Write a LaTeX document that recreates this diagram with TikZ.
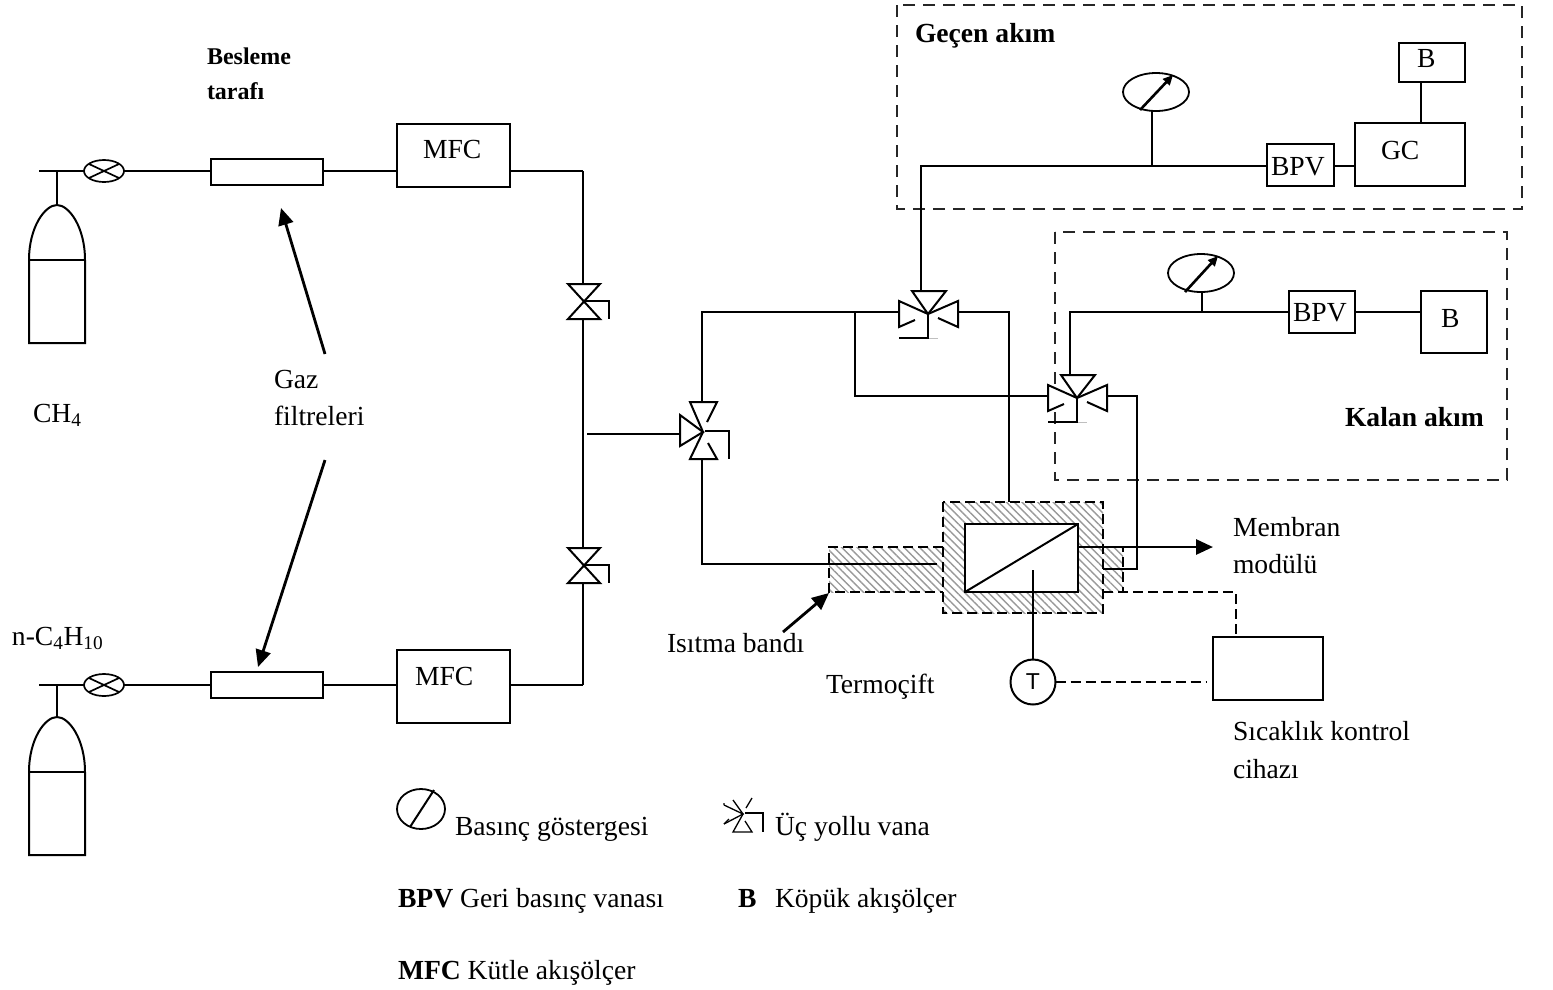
\documentclass[tikz,border=0pt]{standalone}
\usepackage{fontspec}
\setmainfont{Liberation Serif}
\newfontfamily\sansT{Liberation Sans}
\usetikzlibrary{arrows.meta,patterns.meta,shapes.geometric}
\tikzset{
  x=1pt,y=-1pt,
  every node/.style={inner sep=0pt,outer sep=0pt},
  pipe/.style={line width=2pt,line join=miter},
  boxshape/.style={draw,line width=2pt,fill=white,rectangle},
  ell/.style={draw,line width=1.8pt,ellipse,fill=white},
  txt/.style={anchor=base west,yshift=-1pt,font=\fontsize{27.6}{32}\selectfont},
  btxt/.style={txt,font=\fontsize{27.6}{32}\selectfont\bfseries},
  titletxt/.style={txt,font=\fontsize{24}{28}\selectfont\bfseries},
  dashbox/.style={line width=1.8pt,draw=black!85,dash pattern=on 12pt off 8pt},
  hdash/.style={line width=1.8pt,dash pattern=on 10pt off 5pt},
  hatch/.style={pattern={Lines[angle=-45,distance=5.5pt,line width=1.4pt]},pattern color=black!40},
  bigarrow/.style={line width=2.8pt,-{Triangle[length=17pt,width=15pt]}},
  gaugearrow/.style={line width=2.6pt,-{Triangle[length=10pt,width=9pt]}},
  threewayT/.pic={
    \coordinate (-top) at (-6,-23);
    \coordinate (-left) at (-29,-2);
    \coordinate (-right) at (30,-2);
    \draw[pipe,fill=white] (-16,-23) -- (18,-23) -- (0,0) -- cycle;
    \fill[white] (0,0) -- (-29,-13) -- (-29,13) -- cycle;
    \fill[white] (0,0) -- (30,-13) -- (30,13) -- cycle;
    \draw[pipe] (-13,6) -- (-29,13) -- (-29,-13) -- (0,0) -- (30,-13) -- (30,13) -- (10,4);
    \draw[line width=1pt,black!25] (0,24) -- (10,24);
    \draw[pipe] (0,0) -- (0,24) -- (-29,24);
  },
  threewayV/.pic={
    \coordinate (-top) at (-1,-30);
    \coordinate (-bottom) at (-1,27);
    \coordinate (-left) at (-23,2);
    \draw[pipe] (4,-10) -- (14,-30) -- (-13,-30) -- (0,0) -- (-13,27) -- (14,27) -- (5,11);
    \draw[pipe,fill=white] (0,0) -- (-23,-17) -- (-23,14) -- cycle;
    \draw[pipe] (2,-1) -- (26,-1) -- (26,27);
  },
  twoway/.pic={
    \coordinate (-top) at (0,-17);
    \coordinate (-bottom) at (0,18);
    \draw[pipe,fill=white] (-15,-17) -- (17,-17) -- (-15,18) -- (17,18) -- cycle;
    \draw[pipe] (0,0) -- (26,0) -- (26,18);
  },
  cylinder/.pic={
    \coordinate (-top) at (0,0);
    \draw[pipe] (-28,138) -- (-28,55) .. controls (-28,22) and (-12,0) .. (0,0)
       .. controls (12,0) and (28,22) .. (28,55) -- (28,138) -- cycle;
    \draw[pipe] (-28,55) -- (28,55);
  },
  regulator/.pic={
    \draw[line width=1.7pt,fill=white] (0,0) ellipse [x radius=20pt,y radius=11pt];
    \draw[line width=1.7pt] (-15,-7) -- (15,7) (-15,7) -- (15,-7);
  },
}
\begin{document}
\begin{tikzpicture}
\useasboundingbox (0,0) rectangle (1553,989);

% dashed enclosures
\draw[dashbox] (897,5) rectangle (1522,209);
\draw[dashbox] (1055,232) rectangle (1507,480);

% hatched heating zones
\fill[hatch] (829,547) rectangle (943,592);
\fill[hatch] (1103,547) rectangle (1123,592);
\fill[hatch] (943,502) rectangle (1103,613);
\draw[hdash] (943,547) -- (829,547) -- (829,592) -- (943,592);
\draw[hdash] (1103,547) -- (1123,547) -- (1123,592) -- (1103,592);
\draw[hdash] (943,502) rectangle (1103,613);

% feed side
\pic (cyl1) at (57,205) {cylinder};
\pic (cyl2) at (57,717) {cylinder};
\coordinate (s1) at (39,171);
\coordinate (s2) at (39,685);
\coordinate (t1) at (57,171);
\coordinate (t2) at (57,685);
\node[boxshape,minimum width=112pt,minimum height=26pt] (filter1) at (267,172) {};
\node[boxshape,minimum width=112pt,minimum height=26pt] (filter2) at (267,685) {};
\node[boxshape,minimum width=113pt,minimum height=63pt] (mfc1) at (453.5,155.5) {};
\node[boxshape,minimum width=113pt,minimum height=73pt] (mfc2) at (453.5,686.5) {};
\coordinate (j1) at (583,171);
\coordinate (j2) at (583,685);
\coordinate (j3) at (587,434);
\draw[pipe] (s1) -- (s1 -| filter1.west);
\draw[pipe] (s2) -- (filter2.west);
\draw[pipe] (t1) -- (cyl1-top);
\draw[pipe] (t2) -- (cyl2-top);
\pic at (104,171) {regulator};
\pic at (104,685) {regulator};
\draw[pipe] (filter1.east |- j1) -- (mfc1.west |- j1);
\draw[pipe] (filter2.east) -- (filter2.east -| mfc2.west);
\draw[pipe] (mfc1.east |- j1) -- (j1);
\draw[pipe] (mfc2.east |- j2) -- (j2);
\pic (tw1) at (583,301) {twoway};
\pic (tw2) at (583,565) {twoway};
\draw[pipe] (j1) -- (tw1-top);
\draw[pipe] (tw1-bottom) -- (tw2-top);
\draw[pipe] (tw2-bottom) -- (j2);

% three-way valves
\pic (v1) at (703,432) {threewayV};
\pic (v2) at (928,314) {threewayT};
\pic (v3) at (1077,398) {threewayT};
\coordinate (a1) at (702,312);
\coordinate (a2) at (855,312);
\coordinate (a3) at (855,396);
\coordinate (a4) at (1009,312);
\coordinate (a5) at (1009,502);
\coordinate (a6) at (702,564);
\coordinate (a7) at (937,564);
\coordinate (a8) at (1137,396);
\coordinate (a9) at (1137,569);
\coordinate (a10) at (1103,569);
\draw[pipe] (j3) -- (v1-left);
\draw[pipe] (v1-top) -- (a1) -- (v2-left);
\draw[pipe] (a2) -- (a3) -- (v3-left);
\draw[pipe] (v2-right) -- (a4) -- (a5);
\draw[pipe] (v1-bottom) -- (a6) -- (a7);
\draw[pipe] (v3-right) -- (a8) -- (a9) -- (a10);

% permeate stream
\node[ell,minimum width=66pt,minimum height=38pt] (g1) at (1156,92) {};
\coordinate (g1a) at (1140,110);
\coordinate (g1b) at (1173,75);
\draw[gaugearrow] (g1a) -- (g1b);
\node[boxshape,minimum width=67pt,minimum height=42pt] (bpv1) at (1300.5,165) {};
\node[boxshape,minimum width=110pt,minimum height=63pt] (gc) at (1410,154.5) {};
\node[boxshape,minimum width=66pt,minimum height=39pt] (b1) at (1432,62) {};
\coordinate (p1) at (921,166);
\coordinate (p2) at (1152,166);
\coordinate (p3) at (1152,111);
\coordinate (p4) at (1421,82);
\coordinate (p5) at (1421,123);
\draw[pipe] (v2-top -| p1) -- (p1) -- (bpv1.west |- p1);
\draw[pipe] (p2) -- (p3);
\draw[pipe] (bpv1.east |- p1) -- (gc.west |- p1);
\draw[pipe] (p4) -- (p5);

% retentate stream
\node[ell,minimum width=66pt,minimum height=38pt] (g2) at (1201,273) {};
\coordinate (g2a) at (1185,292);
\coordinate (g2b) at (1218,256);
\draw[gaugearrow] (g2a) -- (g2b);
\node[boxshape,minimum width=66pt,minimum height=42pt] (bpv2) at (1322,312) {};
\node[boxshape,minimum width=66pt,minimum height=62pt] (b2) at (1454,322) {};
\coordinate (q1) at (1070,312);
\coordinate (q2) at (1202,312);
\coordinate (q3) at (1202,293);
\coordinate (q4) at (1070,375);
\draw[pipe] (q4) -- (q1) -- (bpv2.west);
\draw[pipe] (q2) -- (q3);
\draw[pipe] (bpv2.east) -- (b2.west |- bpv2.east);

% membrane module
\node[boxshape,minimum width=113pt,minimum height=68pt] (mod) at (1021.5,558) {};
\draw[pipe] (mod.south west) -- (mod.north east);
\node[draw,circle,line width=2pt,minimum size=45pt,fill=white] (tc) at (1033,682) {};
\coordinate (tt) at (1033,570);
\draw[pipe] (tt) -- (tc.north);
\node[boxshape,minimum width=110pt,minimum height=63pt] (ctrl) at (1268,668.5) {};
\coordinate (c1) at (1103,592);
\coordinate (c2) at (1236,592);
\coordinate (c3) at (1236,637);
\coordinate (c4) at (1206,682);
\draw[hdash,line width=2.2pt] (c1) -- (c2) -- (c3);
\draw[hdash,line width=2.2pt] (tc.east) -- (c4);
\coordinate (m1) at (1078,547);
\coordinate (m2) at (1213,547);
\draw[bigarrow] (m1) -- (m2);

% annotation arrows
\coordinate (f0) at (325,354);
\coordinate (f1) at (281,208);
\coordinate (f2) at (325,460);
\coordinate (f3) at (258,667);
\coordinate (h0) at (783,632);
\coordinate (h1) at (829,593);
\draw[bigarrow] (f0) -- (f1);
\draw[bigarrow] (f2) -- (f3);
\draw[bigarrow] (h0) -- (h1);

% legend symbols
\node[draw,ellipse,line width=1.8pt,minimum width=48pt,minimum height=40pt] (lg) at (421,809) {};
\coordinate (lg1) at (410,827);
\coordinate (lg2) at (434,790);
\draw[pipe] (lg1) -- (lg2);
\begin{scope}[shift={(743,814)},line width=1.3pt]
  \draw (-19,-9) -- (0,0) -- (-19,10);
  \draw (-19,-9) -- (-19,-11) (-19,10) -- (-14,5);
  \draw (-10,-14) -- (0,0) -- (-10,18) -- (9,18) -- (2,7);
  \draw (3,-6) -- (9,-16);
  \draw (2,-1) -- (20,-1) -- (20,18);
\end{scope}

% texts
\node[titletxt] (t01) at (207,63) {Besleme};
\node[titletxt] (t02) at (207,98) {tarafı};
\node[txt] (t03) at (33,421) {CH\textsubscript{4}};
\node[txt] (t04) at (274,387) {Gaz};
\node[txt] (t05) at (274,424) {filtreleri};
\node[txt] (t06) at (12,644) {n-C\textsubscript{4}H\textsubscript{10}};
\node[txt] (t07) at (423,157) {MFC};
\node[txt] (t08) at (415,684) {MFC};
\node[btxt] (t09) at (915,41) {Geçen akım};
\node[txt] (t10) at (1417,66) {B};
\node[txt] (t11) at (1381,158) {GC};
\node[txt] (t12) at (1271,174) {BPV};
\node[txt] (t13) at (1293,320) {BPV};
\node[txt] (t14) at (1441,326) {B};
\node[btxt] (t15) at (1345,425) {Kalan akım};
\node[txt] (t16) at (1233,535) {Membran};
\node[txt] (t17) at (1233,572) {modülü};
\node[txt] (t18) at (667,651) {Isıtma bandı};
\node[txt] (t19) at (826,692) {Termoçift};
\node[anchor=center,font=\fontsize{23}{26}\selectfont\sansT] (t20) at (tc) {T};
\node[txt] (t21) at (1233,739) {Sıcaklık kontrol};
\node[txt] (t22) at (1233,777) {cihazı};
\node[txt] (t23) at (455,834) {Basınç göstergesi};
\node[txt] (t24) at (775,834) {Üç yollu vana};
\node[txt] (t25) at (398,906) {\textbf{BPV} Geri basınç vanası};
\node[txt] (t26) at (738,906) {\textbf{B}};
\node[txt] (t27) at (775,906) {Köpük akışölçer};
\node[txt] (t28) at (398,978) {\textbf{MFC} Kütle akışölçer};
\end{tikzpicture}
\end{document}
